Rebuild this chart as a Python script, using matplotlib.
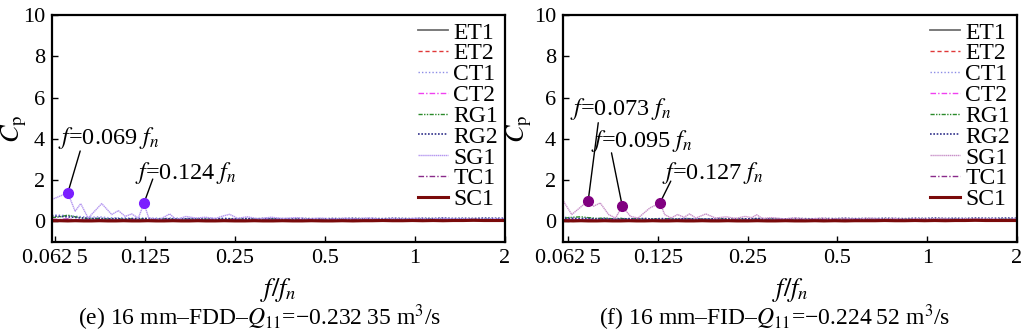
import matplotlib.pyplot as plt
from matplotlib.ticker import FixedLocator, FixedFormatter, NullLocator

plt.rcParams['font.family'] = ['Liberation Serif', 'DejaVu Serif']
plt.rcParams['mathtext.fontset'] = 'stix'

# common frequency grid (f/fn) for the low-amplitude monitoring points
f_grid = [0.061, 0.065, 0.069, 0.073, 0.078, 0.083, 0.088, 0.094, 0.100, 0.106,
          0.113, 0.120, 0.128, 0.136, 0.145, 0.155, 0.165, 0.176, 0.188, 0.200,
          0.215, 0.230, 0.250, 0.270, 0.290, 0.310, 0.335, 0.360, 0.390, 0.420,
          0.450, 0.490, 0.530, 0.570, 0.620, 0.670, 0.720, 0.780, 0.840, 0.910,
          0.980, 1.060, 1.150, 1.240, 1.340, 1.450, 1.570, 1.700, 1.840, 2.000]

# (e) 16 mm-FDD
e_ET1 = [0.08, 0.07, 0.09, 0.06, 0.07, 0.05, 0.06, 0.05, 0.07, 0.05,
         0.06, 0.05, 0.07, 0.05, 0.06, 0.05, 0.06, 0.05, 0.06, 0.05,
         0.06, 0.05, 0.06, 0.05, 0.06, 0.05, 0.06, 0.05, 0.05, 0.06,
         0.05, 0.06, 0.05, 0.06, 0.05, 0.06, 0.05, 0.06, 0.05, 0.06,
         0.05, 0.06, 0.05, 0.06, 0.05, 0.06, 0.05, 0.06, 0.05, 0.06]
e_ET2 = [0.06, 0.05, 0.07, 0.05, 0.06, 0.04, 0.05, 0.04, 0.06, 0.04,
         0.05, 0.04, 0.06, 0.04, 0.05, 0.04, 0.05, 0.04, 0.05, 0.04,
         0.05, 0.04, 0.05, 0.04, 0.05, 0.04, 0.05, 0.04, 0.05, 0.04,
         0.05, 0.04, 0.05, 0.04, 0.05, 0.04, 0.05, 0.04, 0.05, 0.04,
         0.05, 0.04, 0.05, 0.04, 0.05, 0.04, 0.05, 0.04, 0.05, 0.04]
e_CT1 = [0.32, 0.30, 0.28, 0.25, 0.22, 0.20, 0.22, 0.18, 0.16, 0.18,
         0.15, 0.17, 0.14, 0.16, 0.13, 0.18, 0.14, 0.15, 0.13, 0.16,
         0.14, 0.16, 0.13, 0.15, 0.14, 0.13, 0.15, 0.12, 0.14, 0.13,
         0.12, 0.14, 0.12, 0.13, 0.12, 0.14, 0.12, 0.13, 0.12, 0.13,
         0.12, 0.13, 0.12, 0.14, 0.12, 0.13, 0.12, 0.13, 0.12, 0.13]
e_CT2 = [0.10, 0.09, 0.11, 0.08, 0.10, 0.08, 0.09, 0.07, 0.09, 0.08,
         0.10, 0.07, 0.09, 0.08, 0.10, 0.07, 0.09, 0.08, 0.09, 0.07,
         0.09, 0.08, 0.10, 0.07, 0.09, 0.08, 0.09, 0.07, 0.09, 0.08,
         0.09, 0.08, 0.09, 0.08, 0.10, 0.08, 0.09, 0.08, 0.09, 0.08,
         0.10, 0.08, 0.09, 0.08, 0.09, 0.08, 0.10, 0.08, 0.09, 0.08]
e_RG1 = [0.18, 0.22, 0.30, 0.22, 0.15, 0.12, 0.14, 0.11, 0.13, 0.10,
         0.12, 0.10, 0.13, 0.10, 0.12, 0.10, 0.11, 0.09, 0.12, 0.10,
         0.11, 0.09, 0.11, 0.10, 0.12, 0.09, 0.11, 0.10, 0.09, 0.12,
         0.10, 0.11, 0.09, 0.11, 0.10, 0.12, 0.09, 0.11, 0.10, 0.11,
         0.10, 0.12, 0.10, 0.11, 0.09, 0.11, 0.10, 0.12, 0.10, 0.11]
e_RG2 = [0.26, 0.24, 0.22, 0.19, 0.16, 0.14, 0.15, 0.12, 0.14, 0.11,
         0.13, 0.12, 0.14, 0.11, 0.13, 0.12, 0.11, 0.13, 0.12, 0.11,
         0.12, 0.13, 0.11, 0.13, 0.12, 0.14, 0.12, 0.13, 0.12, 0.14,
         0.13, 0.12, 0.14, 0.13, 0.15, 0.13, 0.14, 0.13, 0.15, 0.14,
         0.13, 0.15, 0.14, 0.16, 0.14, 0.15, 0.14, 0.16, 0.15, 0.15]
e_TC1 = [0.09, 0.08, 0.10, 0.07, 0.08, 0.07, 0.08, 0.06, 0.08, 0.07,
         0.08, 0.06, 0.08, 0.07, 0.08, 0.06, 0.07, 0.07, 0.08, 0.06,
         0.07, 0.07, 0.08, 0.06, 0.07, 0.07, 0.08, 0.06, 0.07, 0.07,
         0.08, 0.06, 0.07, 0.07, 0.08, 0.07, 0.08, 0.07, 0.08, 0.07,
         0.08, 0.07, 0.08, 0.07, 0.08, 0.07, 0.08, 0.07, 0.08, 0.07]
e_SC1 = [0.03, 0.03, 0.02, 0.03, 0.02, 0.02, 0.03, 0.02, 0.02, 0.03,
         0.02, 0.02, 0.03, 0.02, 0.02, 0.03, 0.02, 0.02, 0.03, 0.02,
         0.02, 0.03, 0.02, 0.02, 0.03, 0.02, 0.02, 0.03, 0.02, 0.02,
         0.03, 0.02, 0.02, 0.03, 0.02, 0.03, 0.03, 0.04, 0.03, 0.03,
         0.04, 0.03, 0.04, 0.03, 0.04, 0.04, 0.05, 0.04, 0.04, 0.04]
e_SG1_f = [0.0610, 0.0690, 0.0730, 0.0762, 0.0807, 0.0896, 0.0968, 0.1018, 0.1074, 0.1128,
           0.1188, 0.1240, 0.1287, 0.1404, 0.1512, 0.1589, 0.1713, 0.1848, 0.1990, 0.215,
           0.228, 0.240, 0.255, 0.275, 0.30, 0.33, 0.36, 0.40, 0.44, 0.48,
           0.53, 0.58, 0.64, 0.70, 0.77, 0.85, 0.93, 1.02, 1.12, 1.23,
           1.35, 1.48, 1.62, 1.80, 2.0]
e_SG1 = [1.06, 1.38, 0.49, 0.86, 0.16, 0.86, 0.33, 0.52, 0.24, 0.36,
         0.16, 0.88, 0.16, 0.10, 0.36, 0.08, 0.24, 0.16, 0.20, 0.14,
         0.26, 0.34, 0.15, 0.22, 0.12, 0.20, 0.14, 0.18, 0.12, 0.16,
         0.11, 0.15, 0.12, 0.16, 0.11, 0.14, 0.12, 0.15, 0.11, 0.14,
         0.12, 0.13, 0.11, 0.13, 0.12]
e_peak_f = [0.069, 0.124]
e_peak_v = [1.38, 0.88]

# (f) 16 mm-FID
f_ET1 = [0.07, 0.08, 0.06, 0.07, 0.05, 0.06, 0.05, 0.07, 0.05, 0.06,
         0.05, 0.06, 0.05, 0.07, 0.05, 0.06, 0.05, 0.06, 0.05, 0.06,
         0.05, 0.06, 0.05, 0.06, 0.05, 0.06, 0.05, 0.06, 0.05, 0.06,
         0.05, 0.06, 0.05, 0.06, 0.05, 0.06, 0.05, 0.06, 0.05, 0.06,
         0.05, 0.06, 0.05, 0.06, 0.05, 0.06, 0.05, 0.06, 0.05, 0.06]
f_ET2 = [0.05, 0.06, 0.05, 0.06, 0.04, 0.05, 0.04, 0.06, 0.04, 0.05,
         0.04, 0.05, 0.04, 0.06, 0.04, 0.05, 0.04, 0.05, 0.04, 0.05,
         0.04, 0.05, 0.04, 0.05, 0.04, 0.05, 0.04, 0.05, 0.04, 0.05,
         0.04, 0.05, 0.04, 0.05, 0.04, 0.05, 0.04, 0.05, 0.04, 0.05,
         0.04, 0.05, 0.04, 0.05, 0.04, 0.05, 0.04, 0.05, 0.04, 0.05]
f_CT1 = [0.20, 0.18, 0.16, 0.17, 0.14, 0.15, 0.13, 0.15, 0.12, 0.14,
         0.13, 0.12, 0.14, 0.12, 0.13, 0.15, 0.12, 0.13, 0.12, 0.14,
         0.12, 0.13, 0.12, 0.14, 0.12, 0.13, 0.12, 0.13, 0.12, 0.14,
         0.12, 0.13, 0.12, 0.13, 0.12, 0.14, 0.12, 0.13, 0.12, 0.13,
         0.12, 0.13, 0.12, 0.13, 0.12, 0.13, 0.12, 0.13, 0.12, 0.13]
f_CT2 = [0.09, 0.10, 0.08, 0.09, 0.07, 0.09, 0.08, 0.10, 0.07, 0.09,
         0.08, 0.09, 0.07, 0.09, 0.08, 0.10, 0.07, 0.09, 0.08, 0.09,
         0.07, 0.09, 0.08, 0.10, 0.07, 0.09, 0.08, 0.09, 0.08, 0.09,
         0.08, 0.09, 0.08, 0.10, 0.08, 0.09, 0.08, 0.09, 0.08, 0.10,
         0.08, 0.09, 0.08, 0.09, 0.08, 0.10, 0.08, 0.09, 0.08, 0.09]
f_RG1 = [0.16, 0.20, 0.22, 0.18, 0.14, 0.16, 0.12, 0.14, 0.11, 0.13,
         0.10, 0.12, 0.10, 0.13, 0.10, 0.12, 0.10, 0.11, 0.09, 0.12,
         0.10, 0.11, 0.09, 0.11, 0.10, 0.12, 0.09, 0.11, 0.10, 0.09,
         0.12, 0.10, 0.11, 0.09, 0.11, 0.10, 0.12, 0.09, 0.11, 0.10,
         0.11, 0.10, 0.12, 0.10, 0.11, 0.09, 0.11, 0.10, 0.12, 0.10]
f_RG2 = [0.14, 0.13, 0.12, 0.14, 0.11, 0.13, 0.12, 0.11, 0.13, 0.12,
         0.14, 0.11, 0.13, 0.12, 0.11, 0.13, 0.12, 0.11, 0.12, 0.13,
         0.11, 0.13, 0.12, 0.14, 0.12, 0.13, 0.12, 0.14, 0.13, 0.12,
         0.14, 0.13, 0.15, 0.13, 0.14, 0.13, 0.15, 0.14, 0.13, 0.15,
         0.14, 0.16, 0.14, 0.15, 0.14, 0.16, 0.15, 0.15, 0.16, 0.15]
f_TC1 = [0.08, 0.09, 0.07, 0.08, 0.07, 0.08, 0.06, 0.08, 0.07, 0.08,
         0.06, 0.08, 0.07, 0.08, 0.06, 0.07, 0.07, 0.08, 0.06, 0.07,
         0.07, 0.08, 0.06, 0.07, 0.07, 0.08, 0.06, 0.07, 0.07, 0.08,
         0.07, 0.08, 0.07, 0.08, 0.07, 0.08, 0.07, 0.08, 0.07, 0.08,
         0.07, 0.08, 0.07, 0.08, 0.07, 0.08, 0.07, 0.08, 0.07, 0.08]
f_SC1 = [0.03, 0.02, 0.03, 0.02, 0.02, 0.03, 0.02, 0.02, 0.03, 0.02,
         0.02, 0.03, 0.02, 0.02, 0.03, 0.02, 0.02, 0.03, 0.02, 0.02,
         0.03, 0.02, 0.02, 0.03, 0.02, 0.02, 0.03, 0.02, 0.02, 0.03,
         0.02, 0.03, 0.02, 0.03, 0.03, 0.03, 0.04, 0.03, 0.03, 0.04,
         0.03, 0.04, 0.03, 0.04, 0.04, 0.05, 0.04, 0.04, 0.04, 0.04]
f_SG1_f = [0.0603, 0.0643, 0.0730, 0.0760, 0.0801, 0.0855, 0.0901, 0.0950, 0.1012, 0.1073,
           0.1175, 0.1270, 0.1318, 0.1385, 0.1455, 0.1530, 0.1597, 0.1676, 0.1810, 0.1952,
           0.212, 0.228, 0.245, 0.258, 0.268, 0.28, 0.30, 0.33, 0.36, 0.40,
           0.44, 0.48, 0.53, 0.58, 0.64, 0.70, 0.77, 0.85, 0.93, 1.02,
           1.12, 1.23, 1.35, 1.48, 1.62, 1.80, 2.0]
f_SG1 = [0.98, 0.33, 1.00, 0.73, 0.89, 0.33, 0.16, 0.73, 0.24, 0.16,
         0.65, 0.89, 0.33, 0.16, 0.33, 0.20, 0.36, 0.16, 0.36, 0.16,
         0.22, 0.14, 0.24, 0.18, 0.32, 0.14, 0.18, 0.12, 0.16, 0.11,
         0.15, 0.12, 0.14, 0.11, 0.15, 0.12, 0.14, 0.11, 0.13, 0.12,
         0.14, 0.11, 0.13, 0.12, 0.13, 0.11, 0.12]
f_peak_f = [0.073, 0.095, 0.127]
f_peak_v = [1.00, 0.73, 0.89]

tick_vals = [0.0625, 0.125, 0.25, 0.5, 1, 2]
tick_labels = ['0.062\u20095', '0.125', '0.25', '0.5', '1', '2']

# line styles for each monitoring point
styles = {
    'ET1': dict(color='#707070', ls='-', lw=1.3),
    'ET2': dict(color='#e03838', ls=(0, (3, 2)), lw=1.0),
    'CT1': dict(color='#8c8ce6', ls=(0, (1, 1.5)), lw=1.0),
    'CT2': dict(color='#f040f0', ls=(0, (4, 1.5, 1, 1.5)), lw=1.0),
    'RG1': dict(color='#2a8a2a', ls=(0, (3, 1, 1, 1, 1, 1)), lw=1.0),
    'RG2': dict(color='#30308a', ls=(0, (1, 1)), lw=1.2),
    'SG1': dict(color='#b89cf0', ls=(0, (1, 0.4)), lw=1.0),
    'TC1': dict(color='#8a2a8a', ls=(0, (4, 1.5, 1, 1.5)), lw=1.0),
    'SC1': dict(color='#7a0a0a', ls='-', lw=2.2),
}


def draw_panel(ax, series, sg1_f, sg1_v, peak_f, peak_v, sg1_color, dot_color, xmin, notes, ylab_x):
    for name in ['ET1', 'ET2', 'CT1', 'CT2', 'RG1', 'RG2', 'SG1', 'TC1', 'SC1']:
        st = dict(styles[name])
        if name == 'SG1':
            st['color'] = sg1_color
            ax.plot(sg1_f, sg1_v, label=name, **st)
        else:
            ax.plot(f_grid, series[name], label=name, **st)
    ax.plot(peak_f, peak_v, 'o', color=dot_color, ms=7, zorder=5)
    for txt, tpos, lstart, pk in notes:
        ax.text(tpos[0], tpos[1], txt, fontsize=17.5, ha='left', va='center')
        ax.annotate('', xy=pk, xytext=lstart,
                    arrowprops=dict(arrowstyle='-', lw=1.0, color='black', shrinkA=0, shrinkB=0))

    ax.set_xscale('log', base=2)
    ax.set_xlim(xmin, 2)
    ax.set_ylim(-1, 10)
    ax.xaxis.set_major_locator(FixedLocator(tick_vals))
    ax.xaxis.set_major_formatter(FixedFormatter(tick_labels))
    ax.xaxis.set_minor_locator(NullLocator())
    ax.set_yticks([0, 2, 4, 6, 8, 10])
    ax.tick_params(direction='in', length=4, width=1, labelsize=16, pad=5)
    for sp in ax.spines.values():
        sp.set_linewidth(1.6)
    ax.set_xlabel(r'$f/f_n$', fontsize=19, labelpad=6)
    ax.set_ylabel(r'$C_{\rm p}$', fontsize=19)
    ax.yaxis.set_label_coords(ylab_x, 0.5)
    ax.legend(loc='upper right', bbox_to_anchor=(1.0, 1.0), frameon=False, fontsize=17,
              handlelength=1.25, handletextpad=0.22, labelspacing=-0.03, borderaxespad=0.1,
              borderpad=0.2)


fig = plt.figure(figsize=(10.24, 3.32), dpi=100)
ax1 = fig.add_axes([0.0508, 0.2711, 0.4424, 0.6837])
ax2 = fig.add_axes([0.5498, 0.2711, 0.4434, 0.6837])

e_series = dict(ET1=e_ET1, ET2=e_ET2, CT1=e_CT1, CT2=e_CT2, RG1=e_RG1,
                RG2=e_RG2, TC1=e_TC1, SC1=e_SC1)
f_series = dict(ET1=f_ET1, ET2=f_ET2, CT1=f_CT1, CT2=f_CT2, RG1=f_RG1,
                RG2=f_RG2, TC1=f_TC1, SC1=f_SC1)

e_notes = [
    (r'$f$=0.069 $f_n$', (0.0640, 4.05), (0.0759, 3.41), (e_peak_f[0], e_peak_v[0])),
    (r'$f$=0.124 $f_n$', (0.1157, 2.34), (0.1327, 2.05), (e_peak_f[1], e_peak_v[1])),
]
f_notes = [
    (r'$f$=0.073 $f_n$', (0.0635, 5.46), (0.0789, 4.78), (f_peak_f[0], f_peak_v[0])),
    (r'$f$=0.095 $f_n$', (0.0745, 3.90), (0.0874, 3.32), (f_peak_f[1], f_peak_v[1])),
    (r'$f$=0.127 $f_n$', (0.1288, 2.34), (0.1381, 1.95), (f_peak_f[2], f_peak_v[2])),
]

draw_panel(ax1, e_series, e_SG1_f, e_SG1, e_peak_f, e_peak_v, '#b496f0', '#7b1fff', 0.0611,
           e_notes, -0.051)
draw_panel(ax2, f_series, f_SG1_f, f_SG1, f_peak_f, f_peak_v, '#c890c8', '#800080', 0.0601,
           f_notes, -0.064)

fig.text(260 / 1024, 0.042, '(e) 16 mm\u2013FDD\u2013$Q_{11}$=\u22120.232\u200935 m$^3$/s',
         fontsize=17, ha='center', va='center')
fig.text(775 / 1024, 0.042, '(f) 16 mm\u2013FID\u2013$Q_{11}$=\u22120.224\u200952 m$^3$/s',
         fontsize=17, ha='center', va='center')

fig.savefig('out.png', dpi=100)
